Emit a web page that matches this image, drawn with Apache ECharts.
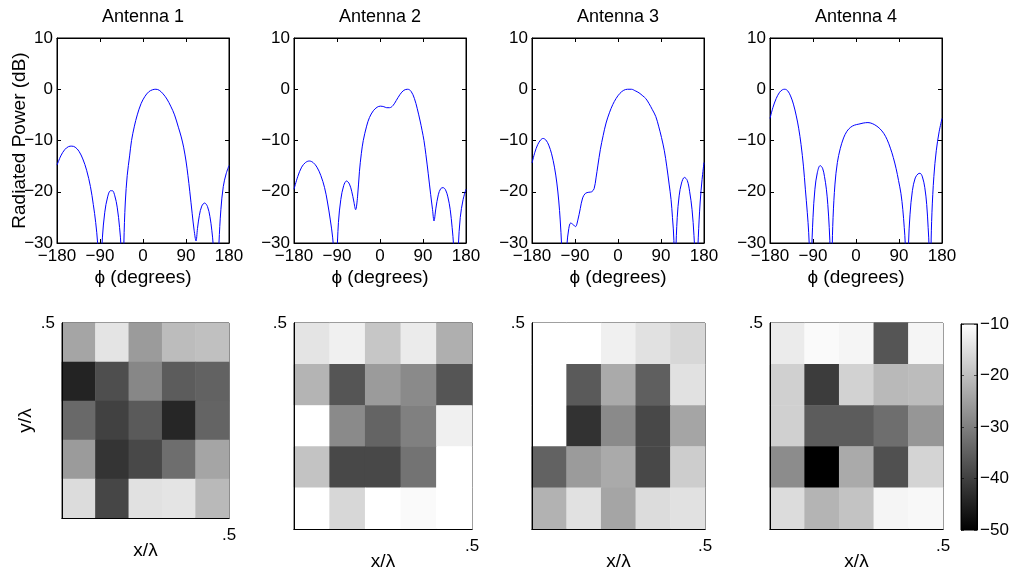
<!DOCTYPE html>
<html><head><meta charset="utf-8">
<script src="https://cdn.jsdelivr.net/npm/echarts@6/dist/echarts.min.js"></script>
<style>html,body{margin:0;padding:0;background:#fff}#c{width:1019px;height:579px}</style>
</head><body><div id="c"></div><script>
// ---------- data ----------
const titles = ['Antenna 1', 'Antenna 2', 'Antenna 3', 'Antenna 4'];
const phiTicks = [-180, -90, 0, 90, 180];
const dbTicks = [-30, -20, -10, 0, 10];
const cbTicks = [-50, -40, -30, -20, -10];
const cellLabels = ['1', '2', '3', '4', '5'];

// radiated power (dB) vs phi (degrees)
const ant1 = [[-180,-14.8],[-172,-13.0],[-164,-11.8],[-156,-11.2],[-149,-11.1],[-142,-11.3],[-134,-12.1],[-126,-13.6],[-118,-15.8],[-110,-19],[-104,-22.5],[-99,-26],[-95,-30],[-92,-36],[-90,-50],[-88,-36],[-85,-29],[-80,-24],[-74,-21],[-68,-19.8],[-64,-19.8],[-59,-20.8],[-54,-23],[-49,-27],[-46,-31],[-43,-50],[-40,-30],[-37,-22],[-33,-16.8],[-28,-13],[-24,-10],[-18,-7.2],[-12,-5],[-4,-2.8],[4,-1.4],[12,-0.5],[20,-0.1],[27,0],[34,-0.2],[42,-0.9],[50,-1.9],[58,-3.3],[66,-5],[74,-7.4],[80,-9.3],[85,-11.3],[90,-14],[94,-16.8],[98,-20],[103,-24.3],[107,-27.5],[111,-29.6],[114,-27.2],[118,-24.6],[123,-22.8],[129,-22.2],[135,-22.9],[140,-24.8],[144,-27.5],[147,-30.5],[150,-38],[153,-50],[156,-38],[159,-30],[163,-23.5],[168,-19],[174,-16.5],[180,-14.9]];
const ant2 = [[-180,-19.5],[-172,-17.0],[-164,-15.2],[-156,-14.3],[-148,-14.0],[-140,-14.3],[-132,-15.2],[-124,-16.8],[-116,-19.2],[-110,-22],[-104,-25.5],[-99,-29],[-96,-33],[-93,-50],[-90,-33],[-87,-26],[-82,-21.5],[-76,-18.8],[-70,-17.9],[-64,-18.5],[-59,-20],[-55,-21.8],[-51,-23.5],[-47,-21],[-43,-16],[-39,-12.5],[-35,-10],[-28,-7.2],[-22,-5.5],[-14,-4.2],[-6,-3.5],[1,-3.3],[8,-3.4],[14,-3.6],[20,-3.6],[27,-3.2],[34,-2.2],[42,-1.0],[50,-0.2],[58,0],[65,-0.4],[72,-1.8],[78,-3.8],[84,-6.2],[88,-8],[92,-10],[96,-12.7],[101,-16.5],[106,-20.5],[110,-23.5],[113,-25.7],[117,-23.2],[122,-20.6],[127,-19.4],[132,-19.2],[137,-19.6],[142,-21],[147,-23.5],[151,-27],[154,-30.5],[157,-38],[159,-50],[161,-38],[164,-30.5],[168,-25],[174,-21.5],[180,-19.5]];
const ant3 = [[-180,-14.4],[-174,-12.3],[-168,-10.8],[-162,-9.9],[-157,-9.6],[-151,-9.9],[-145,-10.9],[-139,-12.6],[-133,-15.2],[-128,-18.3],[-124,-21.8],[-121,-25.5],[-118,-30.5],[-115,-38],[-113,-50],[-110,-38],[-107,-30.5],[-103,-27.2],[-99,-26.1],[-94,-26.4],[-89,-26.8],[-84,-25.5],[-79,-23.3],[-74,-21.2],[-68,-20.3],[-61,-20.1],[-55,-20],[-50,-19.4],[-46,-17.3],[-42,-14.8],[-37,-11.8],[-31,-9],[-25,-6.6],[-18,-4.6],[-11,-3.0],[-4,-1.8],[4,-0.8],[12,-0.2],[20,0],[28,0],[36,-0.3],[44,-0.7],[52,-1.3],[58,-1.8],[65,-2.8],[72,-4],[79,-5.3],[85,-7.2],[91,-9.4],[97,-12],[102,-15],[107,-18.5],[111,-21.5],[114,-25],[117,-29.5],[119,-45],[121,-32],[124,-25],[128,-20.8],[133,-18.3],[139,-17.2],[145,-17.8],[150,-20],[155,-23.5],[159,-28.5],[162,-35],[164,-50],[166,-35],[168,-29],[172,-22],[176,-17.6],[180,-14.3]];
const ant4 = [[-180,-5.7],[-174,-3.6],[-167,-1.8],[-160,-0.6],[-154,-0.1],[-149,0],[-143,-0.3],[-137,-1.3],[-131,-2.9],[-125,-5.2],[-120,-7.6],[-115,-10.8],[-110,-15],[-106,-19.5],[-102,-24],[-99,-28],[-97,-33],[-95,-50],[-93,-33],[-90,-25],[-86,-19.5],[-81,-16.3],[-75,-14.9],[-70,-15.4],[-66,-17],[-62,-19.5],[-59,-22.5],[-56,-27],[-54,-32],[-52,-50],[-50,-32],[-48,-25],[-44,-18.5],[-39,-14.3],[-33,-11.6],[-26,-9.5],[-19,-8.2],[-11,-7.4],[-3,-7],[6,-6.8],[15,-6.6],[25,-6.5],[34,-6.7],[42,-7.1],[50,-7.7],[58,-8.6],[65,-9.8],[72,-11.5],[78,-13.3],[84,-15.5],[89,-17.8],[94,-20.3],[98,-23.5],[101,-27],[103,-30],[105,-40],[106,-50],[108,-40],[110,-30],[113,-24.5],[118,-19.8],[124,-17.3],[130,-16.5],[134,-16.4],[139,-17.1],[144,-19.2],[148,-22.5],[151,-27],[153,-31],[155,-50],[157,-31],[159,-24],[163,-17],[168,-12],[174,-8.3],[180,-5.7]];

// element powers (dB), rows listed top (y = .5) to bottom
const map1 = [
  [-24.1, -14.2, -25.7, -20.5, -19.9],
  [-44.5, -37.8, -28.8, -35.6, -34.6],
  [-33.5, -39.8, -35.9, -44.0, -34.3],
  [-25.7, -41.8, -38.7, -32.7, -24.1],
  [-15.5, -39.0, -14.7, -14.2, -21.0]
];
const map2 = [
  [-14.2, -12.4, -18.9, -13.1, -22.5],
  [-21.8, -36.7, -25.7, -28.4, -36.7],
  [-10.0, -28.4, -34.3, -29.9, -12.4],
  [-19.4, -38.7, -38.7, -32.0, -10.0],
  [-10.0, -16.3, -10.0, -10.8, -10.0]
];
const map3 = [
  [-10.0, -10.0, -12.4, -14.7, -16.3],
  [-10.0, -35.9, -23.3, -35.1, -14.7],
  [-10.0, -42.2, -28.4, -38.7, -24.1],
  [-34.6, -25.7, -23.3, -38.7, -17.8],
  [-22.1, -14.7, -24.1, -15.5, -14.7]
];
const map4 = [
  [-13.1, -10.8, -11.6, -36.7, -11.6],
  [-17.4, -40.6, -17.1, -21.0, -20.5],
  [-17.4, -35.6, -35.6, -32.7, -26.5],
  [-28.0, -50.0, -23.3, -37.5, -16.7],
  [-15.5, -21.8, -19.4, -11.6, -11.1]
];

// ---------- layout ----------
const FONT = "'Liberation Sans', Arial, Helvetica, sans-serif";
const FS = 17;
const topBoxes = [
  {left: 57, top: 38, width: 172, height: 205},
  {left: 294, top: 38, width: 172, height: 205},
  {left: 532, top: 38, width: 172, height: 205},
  {left: 770, top: 38, width: 172, height: 205}
];
const hmBoxes = [
  {left: 62, top: 323, width: 167, height: 195},
  {left: 294, top: 323, width: 178, height: 206},
  {left: 532, top: 323, width: 173, height: 206},
  {left: 770, top: 323, width: 173, height: 206}
];
const cbBox = {left: 961, top: 324, width: 16, height: 206};

const minus = v => String(v).replace('-', '\u2212');
const black = {color: '#000', width: 1};
const txt = {color: '#000', fontSize: FS, fontFamily: FONT};
const nameTxt = {color: '#000', fontSize: 19, fontFamily: FONT};
const titleTxt = {color: '#000', fontSize: 18, fontFamily: FONT};

const grids = [], xAxes = [], yAxes = [], series = [];
const antennas = [ant1, ant2, ant3, ant4];
const maps = [map1, map2, map3, map4];

topBoxes.forEach((b, i) => {
  grids.push(Object.assign({show: true, borderColor: '#000', borderWidth: 1, backgroundColor: '#fff'}, b));
  const xCommon = {gridIndex: i, type: 'value', min: phiTicks[0], max: phiTicks[phiTicks.length - 1],
    interval: phiTicks[1] - phiTicks[0], splitLine: {show: false},
    axisLine: {show: true, onZero: false, lineStyle: black},
    axisTick: {show: true, inside: true, length: 4, lineStyle: black}};
  xAxes.push(Object.assign({}, xCommon, {position: 'bottom',
    axisLabel: Object.assign({margin: 5, formatter: minus}, txt),
    name: '\u03d5 (degrees)', nameLocation: 'middle', nameGap: 25, nameMoveOverlap: false, nameTextStyle: nameTxt}));
  xAxes.push(Object.assign({}, xCommon, {position: 'top', axisLabel: {show: false},
    name: titles[i], nameLocation: 'middle', nameGap: 12, nameMoveOverlap: false, nameTextStyle: titleTxt}));
  const yCommon = {gridIndex: i, type: 'value', min: dbTicks[0], max: dbTicks[dbTicks.length - 1],
    interval: dbTicks[1] - dbTicks[0], splitLine: {show: false},
    axisLine: {show: true, onZero: false, lineStyle: black},
    axisTick: {show: true, inside: true, length: 4, lineStyle: black}};
  const yl = Object.assign({}, yCommon, {position: 'left',
    axisLabel: Object.assign({margin: 4, formatter: minus}, txt)});
  if (i === 0) Object.assign(yl, {name: 'Radiated Power (dB)', nameLocation: 'middle', nameGap: 28,
    nameMoveOverlap: false, nameTextStyle: nameTxt});
  yAxes.push(yl);
  yAxes.push(Object.assign({}, yCommon, {position: 'right', axisLabel: {show: false}}));
  series.push({type: 'line', xAxisIndex: 2 * i, yAxisIndex: 2 * i, data: antennas[i],
    showSymbol: false, smooth: 0.35, clip: true, lineStyle: {color: '#0000ff', width: 1},
    color: '#0000ff', animation: false, silent: true});
});

hmBoxes.forEach((b, j) => {
  const g = 4 + j;
  grids.push(Object.assign({show: true, borderColor: '#000', borderWidth: 1, backgroundColor: '#fff'}, b));
  xAxes.push({gridIndex: g, type: 'category', data: cellLabels, position: 'top', z: 5,
    axisLine: {show: true, lineStyle: black}, axisTick: {show: false}, axisLabel: {show: false}, splitLine: {show: false}});
  xAxes.push({gridIndex: g, type: 'value', min: 0, max: 0.5, interval: 0.5, position: 'bottom', z: 5,
    axisLine: {show: true, onZero: false, lineStyle: black}, axisTick: {show: false}, splitLine: {show: false},
    axisLabel: Object.assign({margin: 9, formatter: v => v === 0.5 ? '.5' : ''}, txt),
    name: 'x/\u03bb', nameLocation: 'middle', nameGap: 23, nameMoveOverlap: false, nameTextStyle: nameTxt});
  yAxes.push({gridIndex: g, type: 'category', data: cellLabels, position: 'right', z: 5,
    axisLine: {show: true, lineStyle: black}, axisTick: {show: false}, axisLabel: {show: false}, splitLine: {show: false}});
  const yv = {gridIndex: g, type: 'value', min: 0, max: 0.5, interval: 0.5, position: 'left', z: 5,
    axisLine: {show: true, onZero: false, lineStyle: black}, axisTick: {show: false}, splitLine: {show: false},
    axisLabel: Object.assign({margin: 7, formatter: v => v === 0.5 ? '.5' : ''}, txt)};
  if (j === 0) Object.assign(yv, {name: 'y/\u03bb', nameLocation: 'middle', nameGap: 27, nameMoveOverlap: false, nameTextStyle: nameTxt});
  yAxes.push(yv);
  const m = maps[j], data = [];
  m.forEach((row, r) => row.forEach((v, c) => data.push([c, m.length - 1 - r, v])));
  series.push({type: 'heatmap', xAxisIndex: 8 + 2 * j, yAxisIndex: 8 + 2 * j, data: data,
    itemStyle: {borderWidth: 0}, emphasis: {disabled: true}, silent: true, animation: false});
});

// colorbar
grids.push(Object.assign({show: true, borderColor: '#000', borderWidth: 1,
  backgroundColor: {type: 'linear', x: 0, y: 0, x2: 0, y2: 1,
    colorStops: [{offset: 0, color: '#ffffff'}, {offset: 1, color: '#000000'}]}}, cbBox));
xAxes.push({gridIndex: 8, type: 'value', min: 0, max: 1, show: false});
const cbCommon = {gridIndex: 8, type: 'value', min: cbTicks[0], max: cbTicks[cbTicks.length - 1],
  interval: cbTicks[1] - cbTicks[0], splitLine: {show: false},
  axisLine: {show: true, onZero: false, lineStyle: black},
  axisTick: {show: true, inside: true, length: 3, lineStyle: {color: '#000', width: 1, opacity: 0.6}}};
yAxes.push(Object.assign({}, cbCommon, {position: 'right',
  axisLabel: Object.assign({margin: 3, formatter: minus}, txt)}));
yAxes.push(Object.assign({}, cbCommon, {position: 'left', axisLabel: {show: false}}));

const chart = echarts.init(document.getElementById('c'), null, {renderer: 'canvas'});
chart.setOption({
  animation: false,
  backgroundColor: '#fff',
  textStyle: {fontFamily: FONT},
  grid: grids,
  xAxis: xAxes,
  yAxis: yAxes,
  visualMap: {type: 'continuous', show: false, min: cbTicks[0], max: cbTicks[cbTicks.length - 1],
    seriesIndex: [4, 5, 6, 7], inRange: {color: ['#000000', '#ffffff']}},
  series: series
});
</script></body></html>
